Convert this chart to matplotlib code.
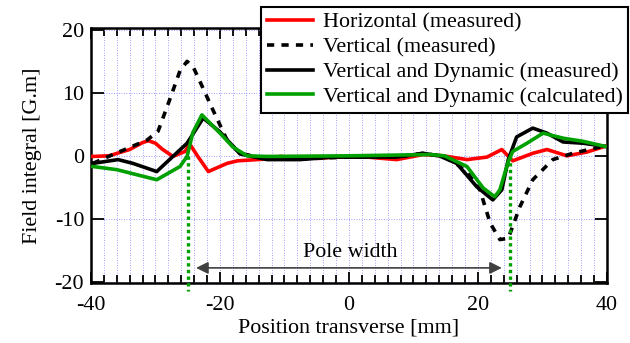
import numpy as np
import matplotlib
matplotlib.use('Agg')
import matplotlib.pyplot as plt
from matplotlib.ticker import MultipleLocator

plt.rcParams['font.family'] = ['Liberation Serif', 'DejaVu Serif']
plt.rcParams['font.size'] = 15.8

# 水平方向(测量)
x_h = [-39.7, -37.2, -34.0, -32.0, -31.1, -30.0, -29.0, -27.3, -25.4, -24.7, -23.5, -21.8, -18.9,
       -17.3, -12.7, -10.7, -7.6, -4.5, -2.5, 2.8, 7.4, 11.5, 14.6, 18.3, 21.4,
       23.7, 25.4, 28.5, 30.7, 33.8, 36.9, 39.7]
y_h = [-0.1, 0.0, 1.0, 2.1, 2.4, 2.0, 1.1, -0.1, 0.7, 1.9, 0.0, -2.5, -1.2,
       -0.8, -0.5, -0.1, -0.3, -0.4, -0.2, -0.2, -0.6, 0.2, 0.0, -0.6, -0.2,
       1.0, -0.8, 0.4, 1.0, 0.0, 0.6, 1.5]

# 垂直方向(测量)
x_v = [-39.7, -36.6, -31.3, -29.6, -27.8, -26.2, -25.1, -24.1, -23.1, -21.1, -18.9, -16.9,
       -12.7, -7.6, 0.0, 7.4, 11.5, 14.6, 16.7, 18.3, 20.3, 21.9, 23.4, 24.7, 26.5,
       28.5, 31.6, 34.7, 38.9, 39.7]
y_v = [-1.2, 0.2, 2.5, 3.9, 8.9, 13.5, 15.0, 14.0, 11.8, 7.3, 2.5, 0.4,
       -0.5, -0.5, -0.2, -0.2, 0.4, -0.1, -1.3, -2.6, -5.4, -10.7, -13.3, -13.1, -8.1,
       -3.8, -0.6, 0.4, 1.4, 1.5]

# 垂直+动态(测量)
x_vd = [-39.7, -35.8, -33.5, -29.8, -27.3, -25.1, -22.6, -20.0, -16.9, -12.7, -7.6,
        -2.5, 7.4, 11.5, 14.0, 16.7, 19.8, 22.3, 23.7, 24.7, 26.0, 28.5, 30.7, 33.2,
        36.3, 39.7]
y_vd = [-1.2, -0.6, -1.2, -2.5, -0.1, 2.0, 6.0, 3.8, 0.3, -0.6, -0.6,
        -0.2, -0.2, 0.4, 0.0, -1.2, -4.9, -7.0, -5.4, -0.6, 3.0, 4.4, 3.6, 2.2,
        2.0, 1.5]

# 垂直+动态(计算)
x_vc = [-39.7, -36.0, -29.8, -26.2, -25.1, -24.2, -22.8, -20.0, -18.0, -15.8, -12.7,
        0.0, 12.6, 14.8, 18.3, 20.8, 22.6, 23.4, 24.7, 25.4, 27.6, 30.1, 33.2, 36.3,
        39.7]
y_vc = [-1.7, -2.2, -3.8, -1.7, -0.1, 3.7, 6.5, 3.6, 1.4, 0.0, -0.1,
        0.0, 0.2, 0.0, -1.7, -5.1, -6.5, -5.4, -0.9, 0.7, 2.0, 3.6, 2.8, 2.3,
        1.5]

pole_edges = [-25, 25]
arrow_x = [-23.7, 23.7]
arrow_y = -17.8

fig = plt.figure(figsize=(6.3, 3.43), dpi=100)
ax = fig.add_axes([0.1444, 0.1749, 0.819, 0.7435])

lw = 2.6
ax.plot(x_h, y_h, color='#ff0000', lw=lw, label='Horizontal (measured)', zorder=3)
ax.plot(x_v, y_v, color='black', lw=lw, ls=(0, (2.0, 2.0)), label='Vertical (measured)', zorder=3)
ax.plot(x_vd, y_vd, color='black', lw=lw, label='Vertical and Dynamic (measured)', zorder=3)
ax.plot(x_vc, y_vc, color='#00a000', lw=lw, label='Vertical and Dynamic (calculated)', zorder=4)

# 极宽标记
for xe in pole_edges:
    ax.plot([xe, xe], [0, -21.5], color='#00a000', lw=2.4, ls=(0, (1, 1)), clip_on=False, zorder=5)
ax.annotate('', xy=(arrow_x[0], arrow_y), xytext=(arrow_x[1], arrow_y),
            arrowprops=dict(arrowstyle='<|-|>', color='#404040', lw=1.2,
                            mutation_scale=18, shrinkA=0, shrinkB=0))
ax.text(0.2, -15.3, 'Pole width', ha='center', va='center')

ax.set_xlim(-40, 40)
ax.set_ylim(-20.2, 20.3)
ax.xaxis.set_minor_locator(MultipleLocator(2))
ax.tick_params(which='both', direction='in', top=True, right=True, width=1.3)
ax.tick_params(which='major', length=8)
ax.tick_params(which='minor', length=6)
ax.tick_params(axis='y', which='major', length=9, pad=5)
ax.tick_params(axis='x', which='major', pad=9)
ax.set_xticks([-40, -20, 0, 20, 40])
ax.set_xticklabels(['-40', '-20', '0', '20', '40'])
ax.set_yticks([-20, -10, 0, 10, 20])
ax.set_yticklabels(['-20', '-10', '0', '10', '20'])

ax.grid(which='minor', axis='x', color='#8080ff', lw=0.6, ls=(0, (1, 2)))
ax.grid(which='major', axis='both', color='#8080ff', lw=0.6, ls=(0, (1, 2)))
for s in ax.spines.values():
    s.set_linewidth(1.8)

ax.set_xlabel('Position transverse [mm]', labelpad=3)
ax.set_ylabel('Field integral [G.m]', labelpad=9)

leg = ax.legend(loc='upper right', bbox_to_anchor=(0.9968, 0.9796), bbox_transform=fig.transFigure,
                borderaxespad=0, frameon=True, fancybox=False, framealpha=1, edgecolor='black',
                handlelength=2.1, handletextpad=0.45, labelspacing=0.2, borderpad=0.25)
leg.get_frame().set_linewidth(1.5)
leg.set_zorder(10)

fig.savefig('out.png', dpi=100)
